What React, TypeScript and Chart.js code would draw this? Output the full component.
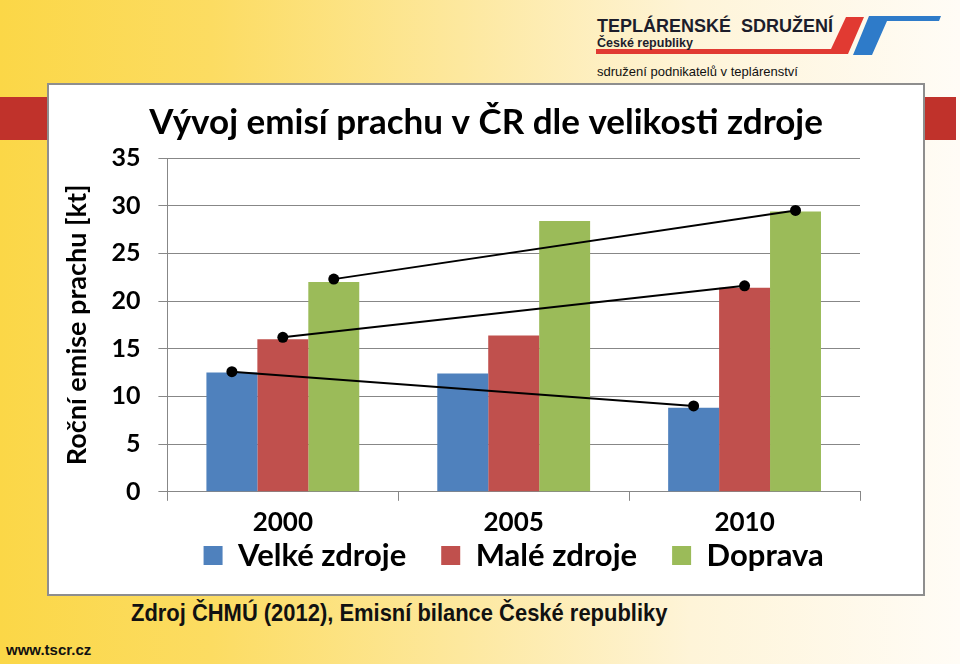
import React, { useEffect, useRef } from 'react';
import { Chart, registerables } from 'chart.js';

Chart.register(...registerables);

const titleText = 'Vývoj emisí prachu v ČR dle velikosti zdroje';
const yAxisTitle = 'Roční emise prachu [kt]';
const years = ['2000', '2005', '2010'];
const seriesNames = ['Velké zdroje', 'Malé zdroje', 'Doprava'];
const velke = [12.5, 12.4, 8.8];
const male = [16.0, 16.4, 21.4];
const doprava = [22.0, 28.4, 29.4];
const trendYears = ['2000', '2010'];
const trendVelke = [12.6, 9.0];
const trendMale = [16.2, 21.6];
const trendDoprava = [22.3, 29.5];
const yTicks = [0, 5, 10, 15, 20, 25, 30, 35];

const COLORS = ['#4F81BD', '#C0504D', '#9BBB59'];
const GRID = '#878787';
const FONT = 'Lato';
const LEGEND_OVERLAP = 39;

const trendPlugin = {
  id: 'trendLines',
  afterDatasetsDraw(chart: any) {
    const { ctx } = chart;
    const y = chart.scales.y;
    const trends = [trendVelke, trendMale, trendDoprava];
    const idx = trendYears.map((t) => years.indexOf(t));
    trends.forEach((vals, di) => {
      const meta = chart.getDatasetMeta(di);
      const pts = idx.map((ci, k) => ({ x: meta.data[ci].x, y: y.getPixelForValue(vals[k]) }));
      ctx.save();
      ctx.strokeStyle = '#000';
      ctx.lineWidth = 2;
      ctx.beginPath();
      ctx.moveTo(pts[0].x, pts[0].y);
      ctx.lineTo(pts[1].x, pts[1].y);
      ctx.stroke();
      ctx.fillStyle = '#000';
      pts.forEach((p) => {
        ctx.beginPath();
        ctx.arc(p.x, p.y, 5.5, 0, Math.PI * 2);
        ctx.fill();
      });
      ctx.restore();
    });
  },
};

// lets the legend's top padding share space with the x-axis labels
const legendSpacing = {
  id: 'legendSpacing',
  beforeInit(chart: any) {
    const legend = chart.legend;
    if (!legend) return;
    const origFit = legend.fit;
    legend.fit = function () {
      origFit.call(this);
      this.height -= LEGEND_OVERLAP;
    };
  },
  afterLayout(chart: any) {
    const legend = chart.legend;
    if (!legend) return;
    legend.top -= LEGEND_OVERLAP;
  },
};

function EmissionChart() {
  const ref = useRef<HTMLCanvasElement | null>(null);
  useEffect(() => {
    if (!ref.current) return;
    const chart = new Chart(ref.current, {
      type: 'bar',
      data: {
        labels: years,
        datasets: [velke, male, doprava].map((d, i) => ({
          label: seriesNames[i],
          data: d,
          backgroundColor: COLORS[i],
          borderWidth: 0,
          categoryPercentage: 0.662,
          barPercentage: 1,
        })),
      },
      options: {
        responsive: false,
        animation: false,
        events: [],
        layout: { padding: { left: 9, right: 9, top: 0, bottom: 0 } },
        plugins: {
          title: {
            display: true,
            text: titleText,
            color: '#000',
            font: { family: FONT, size: 35, weight: 'bold' },
            padding: { top: 17, bottom: 14 },
          },
          legend: {
            position: 'bottom',
            fullSize: false,
            labels: {
              color: '#000',
              font: { family: FONT, size: 31, weight: 'bold' },
              boxWidth: 19,
              boxHeight: 19,
              padding: 35,
            },
          },
          tooltip: { enabled: false },
        },
        scales: {
          x: {
            grid: { drawOnChartArea: false, offset: true, tickLength: 9, color: GRID },
            border: { color: GRID },
            ticks: { color: '#000', font: { family: FONT, size: 26, weight: 'bold' }, padding: 6 },
          },
          y: {
            min: 0,
            max: 35,
            afterBuildTicks: (s: any) => {
              s.ticks = yTicks.map((v) => ({ value: v }));
            },
            grid: { color: GRID, tickLength: 9 },
            border: { color: GRID },
            ticks: { color: '#000', font: { family: FONT, size: 25, weight: 'bold' }, padding: 18 },
            title: {
              display: true,
              text: yAxisTitle,
              color: '#000',
              font: { family: FONT, size: 27, weight: 'bold' },
              padding: { top: 3, bottom: 0 },
            },
          },
          yRight: {
            position: 'right',
            grid: { display: false },
            border: { display: false },
            ticks: { display: false },
            afterFit: (s: any) => {
              s.width = 54;
            },
          },
        },
      },
      plugins: [trendPlugin, legendSpacing],
    });
    return () => chart.destroy();
  }, []);
  return (
    <canvas
      ref={ref}
      width={874}
      height={496}
      style={{ position: 'absolute', left: 49, top: 85, width: 874, height: 496 }}
    />
  );
}

export default function App() {
  return (
    <div
      style={{
        position: 'absolute',
        left: 0,
        top: 0,
        width: 960,
        height: 664,
        overflow: 'hidden',
        background: 'linear-gradient(90deg, #FBD747 0%, #FCDC62 22%, #FDE89E 48%, #FEF4D8 72%, #FFFCF6 100%)',
        fontFamily: '"Liberation Sans", Arial, sans-serif',
      }}
    >
      <div style={{ position: 'absolute', left: 0, top: 97, width: 48, height: 43, background: '#C0322B' }} />
      <div style={{ position: 'absolute', left: 925, top: 97, width: 31, height: 43, background: '#C0322B' }} />
      <svg width={960} height={80} style={{ position: 'absolute', left: 0, top: 0 }}>
        <polygon points="596,49 831,49 846,17 864,17 848,54 596,54" fill="#E13A32" />
        <polygon points="853,55 869,16 941,16 939,21 887,21 872,55" fill="#2E7BC9" />
      </svg>
      <div
        style={{
          position: 'absolute',
          left: 597,
          top: 16,
          fontSize: 18,
          fontWeight: 'bold',
          color: '#1d1d2b',
          whiteSpace: 'pre',
        }}
      >
        {'TEPLÁRENSKÉ  SDRUŽENÍ'}
      </div>
      <div style={{ position: 'absolute', left: 597, top: 36, fontSize: 12.5, fontWeight: 'bold', color: '#1d1d2b' }}>
        České republiky
      </div>
      <div style={{ position: 'absolute', left: 597, top: 64, fontSize: 13, color: '#111' }}>
        sdružení podnikatelů v teplárenství
      </div>
      <div
        style={{
          position: 'absolute',
          left: 47,
          top: 83,
          width: 878,
          height: 513,
          boxSizing: 'border-box',
          border: '2px solid #8E8E8E',
          background: '#fff',
        }}
      />
      <EmissionChart />
      <div
        style={{
          position: 'absolute',
          left: 131,
          top: 599,
          fontSize: 24,
          fontWeight: 'bold',
          color: '#111',
          whiteSpace: 'nowrap',
          transform: 'scaleX(0.914)',
          transformOrigin: 'left top',
        }}
      >
        Zdroj ČHMÚ (2012), Emisní bilance České republiky
      </div>
      <div style={{ position: 'absolute', left: 6, top: 641, fontSize: 15, fontWeight: 'bold', color: '#111' }}>
        www.tscr.cz
      </div>
    </div>
  );
}
